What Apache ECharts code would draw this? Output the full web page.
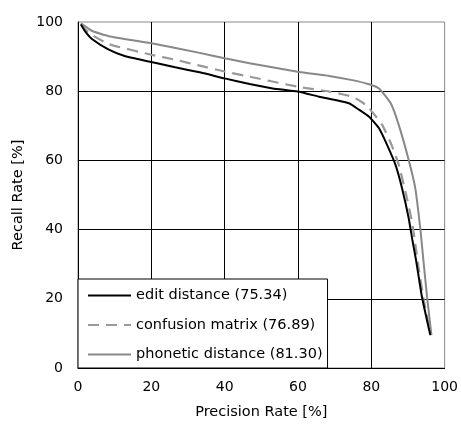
<!DOCTYPE html>
<html>
<head>
<meta charset="utf-8">
<script src="https://cdn.jsdelivr.net/npm/echarts@6/dist/echarts.min.js"></script>
<style>html,body{margin:0;padding:0;background:#fff}#c{width:461px;height:426px}</style>
</head>
<body>
<div id="c"></div>
<script>
const seriesNames = ['edit distance (75.34)', 'confusion matrix (76.89)', 'phonetic distance (81.30)'];
const xTicks = [0, 20, 40, 60, 80, 100];
const yTicks = [0, 20, 40, 60, 80, 100];
// [precision, recall]
const editDistance = [[0.8,99.3],[2,97.2],[3.9,95.0],[8.4,92.0],[12.9,90.1],[19.7,88.5],[26.5,86.9],[33.5,85.4],[40,83.7],[46.8,82.1],[53.1,80.8],[59.9,79.9],[65.8,78.4],[73.9,76.5],[76.7,74.6],[79.4,72.6],[82.1,69.3],[84.3,64.5],[86.6,58.7],[88.4,51.9],[90.2,43.3],[91.2,37],[92.2,31.2],[93.8,20.6],[96.1,9.5]];
const confusionMatrix = [[0.8,99.5],[2,97.8],[3.9,96.2],[8.4,93.6],[19.7,90.6],[26.5,89.1],[33.5,87.3],[40,85.7],[46.8,84.2],[59.9,81.3],[68.5,79.9],[74.8,78.4],[77.5,76.8],[79.4,75.1],[83,70.2],[85.7,64],[87.5,58.7],[89.3,51],[91.1,42.3],[92.1,35],[92.9,29],[94.3,19.7],[96.2,9.5]];
const phoneticDistance = [[0.8,99.6],[3.9,97.4],[8.4,95.9],[19.7,93.9],[33.5,91],[40,89.5],[46.8,88.1],[59.9,85.6],[68.5,84.4],[74.8,83.2],[79.4,82.0],[82.1,80.8],[85.3,76.5],[87.5,70.2],[90.2,60.1],[92,51.9],[93.4,39.9],[94.2,31.2],[95.2,20.6],[96.4,9.5]];

const FONT = 'DejaVu Sans';
const chart = echarts.init(document.getElementById('c'), null, {renderer: 'canvas'});
chart.setOption({
  animation: false,
  backgroundColor: '#fff',
  grid: {left: 78, right: 15, top: 22, bottom: 58, show: true, borderColor: '#888', borderWidth: 1, backgroundColor: 'transparent'},
  xAxis: {
    type: 'value', min: xTicks[0], max: xTicks[xTicks.length - 1], interval: 20,
    name: 'Precision Rate [%]', nameLocation: 'middle', nameGap: 37,
    nameTextStyle: {fontFamily: FONT, fontSize: 14.5, color: '#000'},
    axisLine: {show: true, lineStyle: {color: '#000', width: 1}},
    axisTick: {show: false},
    axisLabel: {fontFamily: FONT, fontSize: 14, color: '#000', margin: 12},
    splitLine: {show: true, showMinLine: false, showMaxLine: false, lineStyle: {color: '#000', width: 1}}
  },
  yAxis: {
    type: 'value', min: yTicks[0], max: yTicks[yTicks.length - 1], interval: 20,
    name: 'Recall Rate [%]', nameLocation: 'middle', nameGap: 47,
    nameTextStyle: {fontFamily: FONT, fontSize: 14.5, color: '#000'},
    axisLine: {show: true, lineStyle: {color: '#000', width: 1}},
    axisTick: {show: false},
    axisLabel: {fontFamily: FONT, fontSize: 14, color: '#000', margin: 15},
    splitLine: {show: true, showMinLine: false, showMaxLine: false, lineStyle: {color: '#000', width: 1}}
  },
  legend: {
    orient: 'vertical', left: 78, bottom: 58,
    data: seriesNames,
    backgroundColor: '#fff', borderColor: '#000', borderWidth: 1,
    padding: [9, 5, 6, 9],
    itemWidth: 43, itemHeight: 14, itemGap: 14.5,
    itemStyle: {opacity: 0},
    textStyle: {fontFamily: FONT, fontSize: 14.5, color: '#000'}
  },
  series: [
    {name: seriesNames[0], type: 'line', data: editDistance, symbol: 'none', smooth: 0.15,
     lineStyle: {color: '#000', width: 2}, itemStyle: {color: '#000'}, z: 4},
    {name: seriesNames[1], type: 'line', data: confusionMatrix, symbol: 'none', smooth: 0.15,
     lineStyle: {color: '#999', width: 2.2, type: [11, 7]}, itemStyle: {color: '#999'}, z: 3},
    {name: seriesNames[2], type: 'line', data: phoneticDistance, symbol: 'none', smooth: 0.15,
     lineStyle: {color: '#888', width: 2}, itemStyle: {color: '#888'}, z: 2}
  ]
});
</script>
</body>
</html>
